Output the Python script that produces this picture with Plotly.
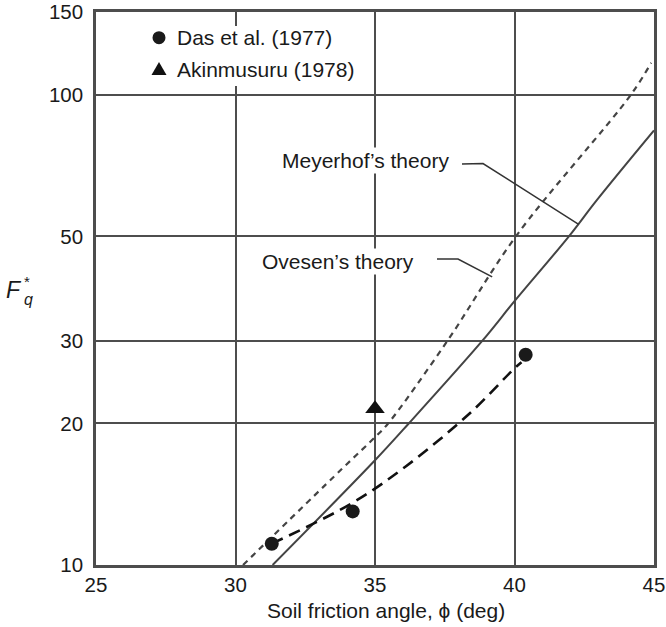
import math
import plotly.graph_objects as go

# ---- data ----
das_phi = [31.3, 34.2, 40.4]
das_fq = [11.1, 13.0, 28.0]

akin_phi = [35.0]
akin_fq = [21.5]

das_trend_phi = [31.3, 34.14, 36.1, 38.39, 40.0, 40.25]
das_trend_fq = [11.1, 13.5, 16.2, 21.0, 26.2, 27.0]

meyerhof_phi = [31.33, 35.0, 36.21, 38.85, 40.0, 41.95, 42.95, 45.0]
meyerhof_fq = [10.0, 16.7, 20.0, 30.0, 36.4, 50.0, 59.7, 84.0]

ovesen_phi = [30.27, 33.79, 35.0, 35.47, 37.6, 40.05, 44.17, 44.9]
ovesen_fq = [10.0, 15.96, 18.7, 20.0, 30.0, 50.0, 100.0, 117.0]

x_ticks = [25, 30, 35, 40, 45]
y_ticks = [10, 20, 30, 50, 100, 150]

# leader-line anchor points on the curves (data units)
meyerhof_label_pt = (42.3, 53.0)
ovesen_label_pt = (39.2, 41.0)

FONT = "Liberation Sans, Arial, sans-serif"
GRID = "#4d4d4d"
TXT = 21
TICK = 20.5
X_MIN, X_MAX = 25, 45
Y_MIN, Y_MAX = 10, 150


def to_paper(x, y):
    px = (x - X_MIN) / (X_MAX - X_MIN)
    py = (math.log10(y) - math.log10(Y_MIN)) / (math.log10(Y_MAX) - math.log10(Y_MIN))
    return px, py


fig = go.Figure()

fig.add_trace(go.Scatter(x=ovesen_phi, y=ovesen_fq, mode="lines", line_shape="spline",
                         line=dict(color="#444444", width=2.2, dash="6px,5px"),
                         showlegend=False, hoverinfo="skip"))
fig.add_trace(go.Scatter(x=meyerhof_phi, y=meyerhof_fq, mode="lines", line_shape="spline",
                         line=dict(color="#444444", width=2),
                         showlegend=False, hoverinfo="skip"))
fig.add_trace(go.Scatter(x=das_trend_phi, y=das_trend_fq, mode="lines", line_shape="spline",
                         line=dict(color="#111111", width=2.6, dash="12px,7px"),
                         showlegend=False, hoverinfo="skip"))
fig.add_trace(go.Scatter(x=das_phi, y=das_fq, mode="markers",
                         marker=dict(symbol="circle", size=14, color="#1a1a1a"),
                         showlegend=False, name="Das et al. (1977)"))
fig.add_trace(go.Scatter(x=akin_phi, y=akin_fq, mode="markers",
                         marker=dict(symbol="triangle-up", size=17, color="#111111"),
                         showlegend=False, name="Akinmusuru (1978)"))

W, H = 666, 627
L, R, T, B = 96, 12, 12, 62
pw, ph = W - L - R, H - T - B


def pp(px, py):
    return (px - L) / pw, (H - B - py) / ph


shapes = []
# white box behind legend
x0, y0 = pp(140, 86)
x1, y1 = pp(350, 26)
shapes.append(dict(type="rect", xref="paper", yref="paper", x0=x0, x1=x1, y0=y0, y1=y1,
                   fillcolor="white", line=dict(width=0), layer="above"))
# legend symbols
cx, cy = pp(159, 37.7)
shapes.append(dict(type="circle", xref="paper", yref="paper", xsizemode="pixel", ysizemode="pixel",
                   xanchor=cx, yanchor=cy, x0=-6.5, x1=6.5, y0=-6.5, y1=6.5,
                   fillcolor="#1a1a1a", line=dict(width=0), layer="above"))
tx, ty = pp(159, 69)
shapes.append(dict(type="path", xref="paper", yref="paper", xsizemode="pixel", ysizemode="pixel",
                   xanchor=tx, yanchor=ty, path="M -7.5 -6 L 7.5 -6 L 0 7 Z",
                   fillcolor="#111111", line=dict(width=0), layer="above"))

# leader lines
mx, my = to_paper(*meyerhof_label_pt)
a = pp(462, 164)
b = pp(483, 163.5)
shapes.append(dict(type="path", xref="paper", yref="paper",
                   path=f"M {a[0]} {a[1]} L {b[0]} {b[1]} L {mx} {my}",
                   line=dict(color="#333333", width=1.5)))
ox, oy = to_paper(*ovesen_label_pt)
a = pp(437, 259)
b = pp(458, 259)
shapes.append(dict(type="path", xref="paper", yref="paper",
                   path=f"M {a[0]} {a[1]} L {b[0]} {b[1]} L {ox} {oy}",
                   line=dict(color="#333333", width=1.5)))

annotations = []


def ann(text, px, py, size=TXT, xanchor="left", yanchor="middle", bg=None):
    x, y = pp(px, py)
    d = dict(text=text, x=x, y=y, xref="paper", yref="paper", showarrow=False,
             xanchor=xanchor, yanchor=yanchor,
             font=dict(family=FONT, size=size, color="#1a1a1a"))
    if bg:
        d["bgcolor"] = bg
        d["borderpad"] = 1
    annotations.append(d)


ann("Das et al. (1977)", 175, 37.7)
ann("Akinmusuru (1978)", 175, 69)
ann("Meyerhof’s theory", 280, 160, bg="white")
ann("Ovesen’s theory", 260, 261.7, bg="white")
ann("Soil friction angle, ϕ (deg)", 386, 610, xanchor="center")
ann("<i>F</i>", 13.5, 290, size=23, xanchor="center")
ann("*", 27, 281, size=15, xanchor="center")
ann("<i>q</i>", 28, 299, size=16, xanchor="center")

fig.update_layout(
    width=W, height=H,
    margin=dict(l=L, r=R, t=T, b=B, autoexpand=False),
    paper_bgcolor="white", plot_bgcolor="white",
    font=dict(family=FONT, size=TICK, color="#1a1a1a"),
    shapes=shapes, annotations=annotations,
    showlegend=False,
)
fig.update_xaxes(range=[X_MIN, X_MAX], tickvals=x_ticks, ticktext=[str(v) for v in x_ticks],
                 showgrid=True, gridcolor=GRID, gridwidth=2,
                 showline=True, linecolor=GRID, linewidth=2.5, mirror=True,
                 zeroline=False, ticks="", tickfont=dict(size=TICK), automargin=False)
fig.update_yaxes(type="log", range=[math.log10(Y_MIN), math.log10(Y_MAX)],
                 tickvals=y_ticks, ticktext=[str(v) for v in y_ticks],
                 showgrid=True, gridcolor=GRID, gridwidth=2,
                 showline=True, linecolor=GRID, linewidth=2.5, mirror=True,
                 zeroline=False, ticks="", tickfont=dict(size=TICK), automargin=False,
                 ticklabelstandoff=6)

fig.write_html("out.html", config={"displayModeBar": False},
               post_script="document.body.style.margin='0';document.body.style.overflow='hidden';")
